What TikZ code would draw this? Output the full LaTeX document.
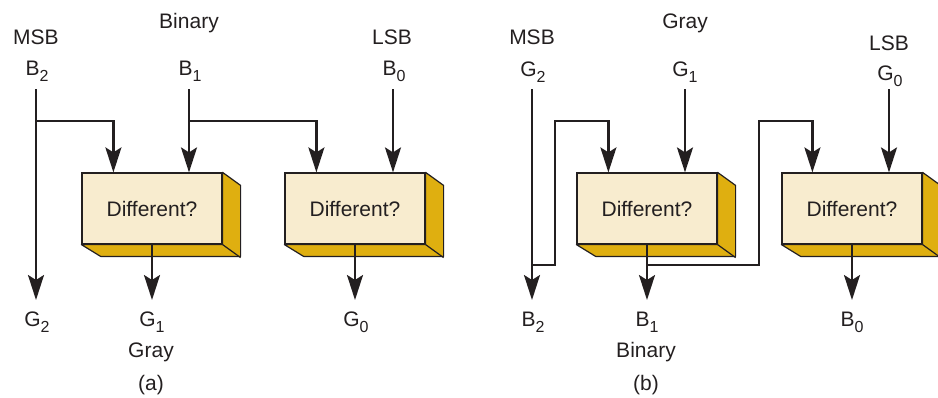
\documentclass[tikz,border=0pt]{standalone}
\usepackage{fontspec}
\setmainfont{Liberation Sans}
\usetikzlibrary{arrows.meta,calc}
\definecolor{inkDark}{HTML}{231F20}
\definecolor{boxFront}{HTML}{F8ECCF}
\definecolor{boxSide}{HTML}{DFAF10}
\newcommand{\boxDX}{18}
\newcommand{\boxDY}{13}
\newcommand{\bitSty}[2]{#1\raisebox{-6pt}{\fontsize{16}{16}\selectfont #2}}
\newcommand{\extrude}[1]{%
  \filldraw[boxside] (#1.north east) -- ++(\boxDX,\boxDY) -- ++(0,71) -- ++(-140,0) -- (#1.south west) -- (#1.south east) -- cycle;
  \draw[boxside] (#1.south east) -- ++(\boxDX,\boxDY);}
\tikzset{
  wire/.style={draw=inkDark, line width=2.3pt},
  arrowed/.style={wire, -{Stealth[length=25pt,width=16pt,inset=5pt]}},
  diffbox/.style={draw=inkDark, line width=1.2pt, fill=boxFront, text=inkDark, minimum width=140pt, minimum height=71pt, inner sep=0pt, font=\fontsize{21}{25}\selectfont},
  boxside/.style={draw=inkDark, line width=1.2pt, fill=boxSide, line join=round},
  lbl/.style={anchor=base, inner sep=0pt, text=inkDark, font=\fontsize{21}{25}\selectfont},
}
\begin{document}
\begin{tikzpicture}[x=1pt, y=-1pt]
		\useasboundingbox (0,0) rectangle (938,397);

		% ---- (a) binary to gray ----
		% boxes
		\node[diffbox] (dA1) at (152,208.5) {Different?};
		\node[diffbox] (dA2) at (355,208.5) {Different?};
		\extrude{dA1}
		\extrude{dA2}

		% labels on top
		\node[lbl] (msbA) at (36,44) {MSB};
		\node[lbl] (binA) at (189,28) {Binary};
		\node[lbl] (lsbA) at (392,44) {LSB};
		\node[lbl] (inB2) at (37,75) {\bitSty{B}{2}};
		\node[lbl] (inB1) at (190,75) {\bitSty{B}{1}};
		\node[lbl] (inB0) at (394,75) {\bitSty{B}{0}};

		% labels below
		\node[lbl] (outG2) at (37,326) {\bitSty{G}{2}};
		\node[lbl] (outG1) at (152,326) {\bitSty{G}{1}};
		\node[lbl] (outG0) at (356,326) {\bitSty{G}{0}};
		\node[lbl] (grayA) at (151,357) {Gray};
		\node[lbl] (capA) at (151,390) {(a)};

		% wires
		\coordinate (b2a) at (36,89);
		\coordinate (g2a) at (36,300);
		\coordinate (tapB2) at (36,121);
		\coordinate (b1a) at (189,89);
		\coordinate (tapB1) at (189,121);
		\coordinate (b0a) at (393,89);
		\coordinate (g1a) at (152,300);
		\coordinate (g0a) at (355,300);
		\draw[arrowed] (b2a) -- (g2a);
		\draw[arrowed] (tapB2) -| ($(dA1.north west)+(32,0)$);
		\draw[arrowed] (b1a) -- (b1a |- dA1.north);
		\draw[arrowed] (tapB1) -| ($(dA2.north west)+(32,0)$);
		\draw[arrowed] (b0a) -- (b0a |- dA2.north);
		\draw[arrowed] (dA1.south) -- (g1a);
		\draw[arrowed] (dA2.south) -- (g0a);

		% ---- (b) gray to binary ----
		% boxes
		\node[diffbox] (dB1) at (647,208.5) {Different?};
		\node[diffbox] (dB2) at (852,208.5) {Different?};
		\extrude{dB1}
		\extrude{dB2}

		% labels on top
		\node[lbl] (msbB) at (532,44) {MSB};
		\node[lbl] (grayB) at (685,28) {Gray};
		\node[lbl] (lsbB) at (889,50) {LSB};
		\node[lbl] (inG2) at (533,76) {\bitSty{G}{2}};
		\node[lbl] (inG1) at (685,76) {\bitSty{G}{1}};
		\node[lbl] (inG0) at (890,80) {\bitSty{G}{0}};

		% labels below
		\node[lbl] (outB2) at (533,326) {\bitSty{B}{2}};
		\node[lbl] (outB1) at (647,326) {\bitSty{B}{1}};
		\node[lbl] (outB0) at (852,326) {\bitSty{B}{0}};
		\node[lbl] (binB) at (646,357) {Binary};
		\node[lbl] (capB) at (646,390) {(b)};

		% wires
		\coordinate (g2b) at (532,89);
		\coordinate (b2b) at (532,300);
		\coordinate (tapG2) at (532,265);
		\coordinate (g1b) at (685,89);
		\coordinate (b1b) at (647,300);
		\coordinate (tapB1b) at (647,265);
		\coordinate (g0b) at (889,89);
		\coordinate (b0b) at (852,300);
		\draw[arrowed] (g2b) -- (b2b);
		\draw[arrowed] (tapG2) -| (555,121) -| ($(dB1.north west)+(32,0)$);
		\draw[arrowed] (g1b) -- (g1b |- dB1.north);
		\draw[arrowed] (dB1.south) -- (b1b);
		\draw[arrowed] (tapB1b) -| (759,121) -| ($(dB2.north west)+(31,0)$);
		\draw[arrowed] (g0b) -- (g0b |- dB2.north);
		\draw[arrowed] (dB2.south) -- (b0b);

	\end{tikzpicture}
\end{document}
